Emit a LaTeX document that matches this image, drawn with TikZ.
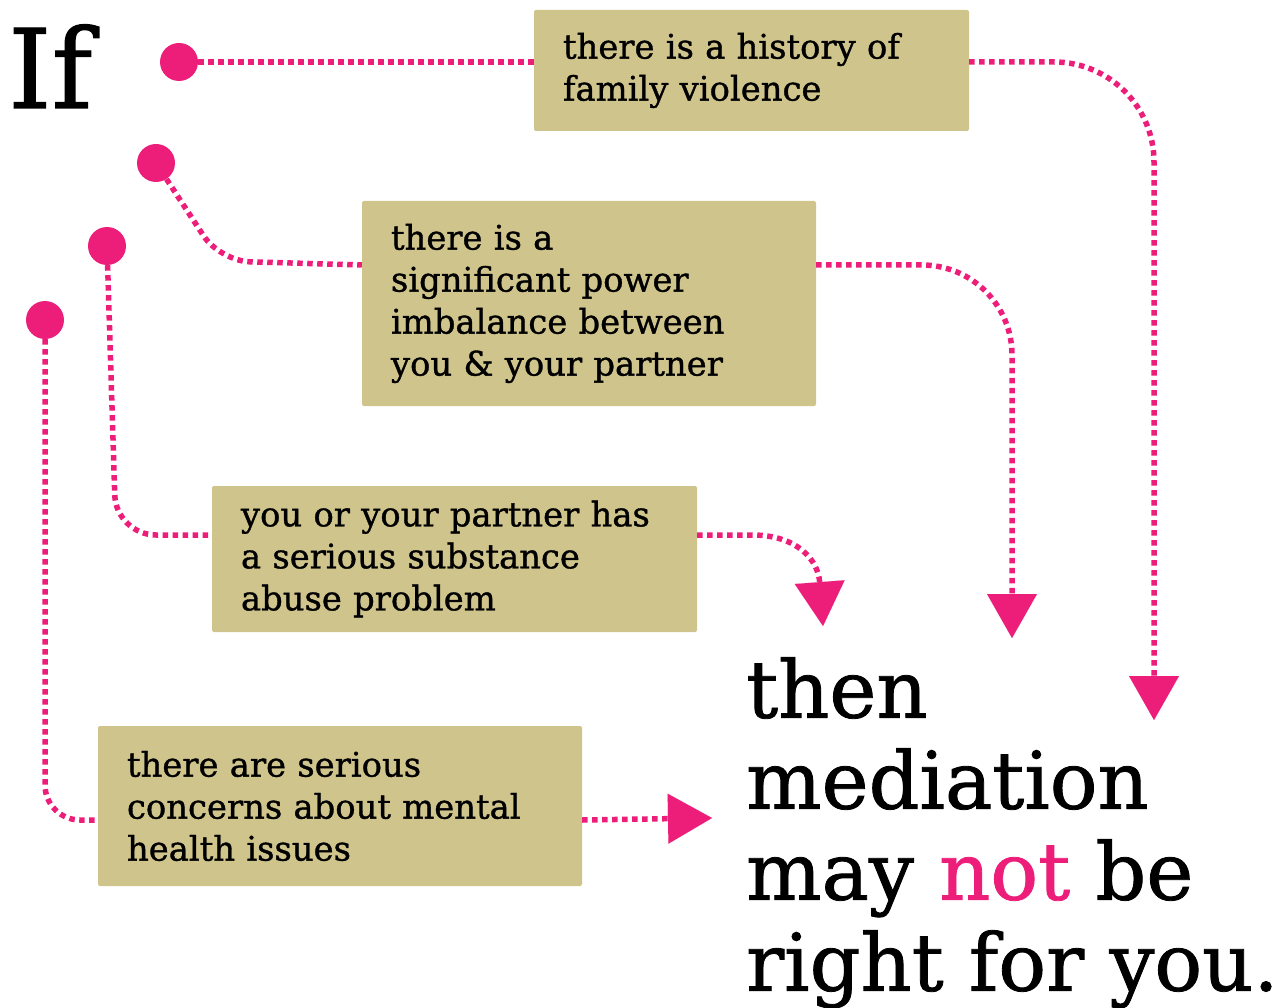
\documentclass[tikz,border=0pt]{standalone}
\usepackage{fontspec}
\setmainfont{DejaVu Serif}[FakeBold=1]
\usetikzlibrary{arrows.meta}
\definecolor{pinkc}{HTML}{ED1E79}
\definecolor{boxc}{HTML}{D0C48D}
\begin{document}
\begin{tikzpicture}[x=1pt,y=-1pt]
\tikzset{
  infobox/.style={fill=boxc, rounded corners=2pt, inner xsep=29pt, inner ysep=0pt, align=left, font=\fontsize{33.8}{42}\selectfont, text=black},
  dotc/.style={circle, fill=pinkc, minimum size=38pt, inner sep=0pt},
  conn/.style={draw=pinkc, line width=5.5pt, dash pattern=on 5.5pt off 4.5pt},
  arr/.style={-{Triangle[length=44pt,width=50pt,line width=0.01pt]}},
}
\useasboundingbox (0,0) rectangle (1280,1008);
\node[anchor=base west, inner sep=0pt, font=\fontsize{110}{110}\selectfont] (if) at (8,108) {If};
\node[infobox, text width=377pt, minimum height=121pt] (b1) at (751.5,70.5) {there is a history of\\family violence};
\node[infobox, text width=396pt, minimum height=205pt] (b2) at (589,303.5) {there is a\\significant power\\imbalance between\\you \& your partner};
\node[infobox, text width=427pt, minimum height=146pt] (b3) at (454.5,559) {you or your partner has\\a serious substance\\abuse problem};
\node[infobox, text width=426pt, minimum height=160pt] (b4) at (340,806) {there are serious\\concerns about mental\\health issues};
\node[anchor=north west, inner sep=0pt, align=left, font=\fontsize{79.5}{91}\selectfont] (concl) at (746,657) {then\\mediation\\may \textcolor{pinkc}{not} be\\right for you.};
\coordinate (t1) at (1154,720);
\coordinate (t2) at (1012,638);
\coordinate (t3) at (823,626);
\coordinate (t4) at (712,818);
\node[dotc] (d1) at (179,62) {};
\node[dotc] (d2) at (156,163) {};
\node[dotc] (d3) at (107,246) {};
\node[dotc] (d4) at (45,320) {};
\draw[conn] (d1) -- (d1 -| b1.west);
\draw[conn, arr, rounded corners=100pt] (d1 -| b1.east) -| (t1);
\draw[conn, rounded corners=30pt] (d2) -- (220,261) -- ([yshift=38.5pt]b2.west);
\draw[conn, arr, rounded corners=90pt] ([yshift=38.5pt]b2.east) -| (t2);
\draw[conn, rounded corners=40pt] (d3) -- (116,535) -- ([yshift=24pt]b3.west);
\draw[conn, arr] ([yshift=24pt]b3.east) -- ++(55,0) .. controls +(45,0) and +(-5,-66) .. (t3);
\draw[conn, rounded corners=35pt] (d4) |- ([yshift=-14pt]b4.west);
\draw[conn, arr] ([yshift=-14pt]b4.east) -- (t4);
\end{tikzpicture}
\end{document}
